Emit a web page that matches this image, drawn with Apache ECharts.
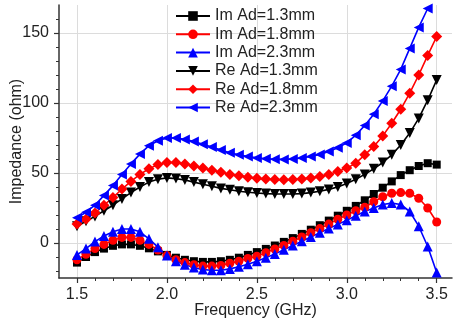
<!DOCTYPE html>
<html>
<head>
<meta charset="utf-8">
<script src="https://cdn.jsdelivr.net/npm/echarts@6/dist/echarts.min.js"></script>
<style>
html,body{margin:0;padding:0;background:#fff;}
#c{width:453px;height:322px;}
</style>
</head>
<body>
<div id="c"></div>
<script>
const freq = [1.5,1.55,1.6,1.65,1.7,1.75,1.8,1.85,1.9,1.95,2.0,2.05,2.1,2.15,2.2,2.25,2.3,2.35,2.4,2.45,2.5,2.55,2.6,2.65,2.7,2.75,2.8,2.85,2.9,2.95,3.0,3.05,3.1,3.15,3.2,3.25,3.3,3.35,3.4,3.45,3.5];
const imAd13 = [-14,-10,-6.5,-4,-2,-1,-1,-2,-3.8,-6,-8.5,-10.5,-12,-13,-13.5,-13.5,-13,-12,-10.5,-8.5,-6.5,-4.2,-1.8,0.8,3.5,6.5,9.5,12.7,16,19.5,23,26.5,30.5,35,39.5,44,48.5,52,55,57,56];
const imAd18 = [-12,-8,-4,-1,2,4,4,2,-1,-5,-9,-12,-14,-15.5,-16.5,-16.5,-16,-14.5,-13,-11,-9.5,-7,-4.3,-1.7,1.3,4.3,7.3,10.3,13.5,17,20,23,25.5,29.5,33,35.5,36,35.5,32,25,15];
const imAd23 = [-8.5,-4,1,5,8,10,10,8,3,-3,-9,-13,-15.5,-17.5,-19,-19.5,-19.5,-18.5,-17,-15.2,-13,-10.5,-7.8,-4.8,-1.8,1.3,4.3,7.3,10.3,13.3,16.3,19.5,22.5,25,27.5,28.5,27.5,22.5,12,-2.5,-21];
const reAd13 = [12,15.5,19,23,27,31.5,36,40,43.5,45.5,46.5,46,45,43.5,42,40.5,39,38,37,36.3,35.7,35.3,35,35,35,35.3,36,37,38.3,40,42.5,45.5,49,53,57.5,63,70,78.5,89,102,116.5];
const reAd18 = [13.5,17,21.5,27,32.5,38.5,44,49,53,56,57.5,57.5,56.5,55,53.5,52,50.5,49,48,47,46.3,45.7,45.3,45.2,45.3,45.7,46.5,47.5,49,51,53.5,57,63,69,76.5,85.5,95.5,107,120,134,147.5];
const reAd23 = [18,22,27,34,41,49,56.5,63.5,69.5,73,75,75,74,72.5,70.5,68.5,66.5,64.5,63,61.8,60.8,60.2,59.8,59.7,60,60.7,61.8,63.3,65.3,68,71.5,77,84,92,101.5,112,124,139,154,167.5];
const seriesNames = ['Im Ad=1.3mm','Im Ad=1.8mm','Im Ad=2.3mm','Re Ad=1.3mm','Re Ad=1.8mm','Re Ad=2.3mm'];
const xMajor = [1.5,2.0,2.5,3.0,3.5];
const xMinor = [1.6,1.7,1.8,1.9,2.1,2.2,2.3,2.4,2.6,2.7,2.8,2.9,3.1,3.2,3.3,3.4];
const yMajor = [0,50,100,150];
const yMinor = [-20,-10,10,20,30,40,60,70,80,90,110,120,130,140,160];

const FONT = 'Liberation Sans, Arial, sans-serif';
const axisColor = '#333';
const gridColor = '#dcdcdc';

function pairs(arr){ return arr.map((v,i)=>[freq[i], v]); }

const styles = [
  {data: imAd13, color:'#000000', symbol:'rect', size:8, rot:0},
  {data: imAd18, color:'#ff0000', symbol:'circle', size:9, rot:0},
  {data: imAd23, color:'#0000ff', symbol:'triangle', size:10, rot:0},
  {data: reAd13, color:'#000000', symbol:'triangle', size:10, rot:180},
  {data: reAd18, color:'#ff0000', symbol:'diamond', size:11, rot:0},
  {data: reAd23, color:'#0000ff', symbol:'triangle', size:10, rot:90}
];

const series = styles.map((s,i)=>({
  name: seriesNames[i],
  type: 'line',
  xAxisIndex: 0, yAxisIndex: 0,
  data: pairs(s.data),
  symbol: s.symbol,
  symbolSize: s.size,
  symbolRotate: s.rot,
  showSymbol: true,
  showAllSymbol: true,
  lineStyle: {color: s.color, width: 1.6},
  itemStyle: {color: s.color},
  emphasis: {disabled: true},
  animation: false
}));

const chart = echarts.init(document.getElementById('c'), null, {renderer:'canvas'});
chart.setOption({
  animation: false,
  backgroundColor: '#fff',
  textStyle: {fontFamily: FONT},
  grid: {left: 59, right: 1, top: 5, bottom: 44, containLabel: false, outerBoundsMode: 'none'},
  legend: {
    orient: 'vertical', left: 175, top: 8, padding: 0,
    itemWidth: 34, itemHeight: 12, itemGap: 2.3,
    textStyle: {fontSize: 16, color: '#222', fontFamily: FONT},
    data: seriesNames
  },
  xAxis: [{
    type: 'value', min: 1.4, max: 3.585,
    name: 'Frequency (GHz)', nameLocation: 'middle', nameGap: 25, nameMoveOverlap: false,
    nameTextStyle: {fontSize: 16, color: '#222', fontFamily: FONT},
    axisLine: {onZero: false, lineStyle: {color: axisColor, width: 1.5}},
    axisTick: {show: true, customValues: xMajor, length: 5, inside: false, lineStyle: {color: axisColor, width: 1.2}},
    axisLabel: {customValues: xMajor, formatter: v => v.toFixed(1), fontSize: 16, color: '#222', margin: 9, fontFamily: FONT},
    splitLine: {show: true, lineStyle: {color: gridColor, width: 1}}
  }, {
    type: 'value', min: 1.4, max: 3.585, position: 'bottom', gridIndex: 0,
    axisLine: {show: false, onZero: false},
    axisTick: {show: true, customValues: xMinor, length: 3, lineStyle: {color: axisColor, width: 1}},
    axisLabel: {show: false},
    splitLine: {show: false}
  }],
  yAxis: [{
    type: 'value', min: -25, max: 170,
    name: 'Impedance (ohm)', nameLocation: 'middle', nameGap: 34, nameMoveOverlap: false,
    nameTextStyle: {fontSize: 16, color: '#222', fontFamily: FONT},
    axisLine: {show: true, onZero: false, lineStyle: {color: axisColor, width: 1.5}},
    axisTick: {show: true, customValues: yMajor, length: 5, lineStyle: {color: axisColor, width: 1.2}},
    axisLabel: {customValues: yMajor, fontSize: 16, color: '#222', margin: 10, fontFamily: FONT},
    splitLine: {show: true, lineStyle: {color: gridColor, width: 1}}
  }, {
    type: 'value', min: -25, max: 170, position: 'left', gridIndex: 0,
    axisLine: {show: false, onZero: false},
    axisTick: {show: true, customValues: yMinor, length: 3, lineStyle: {color: axisColor, width: 1}},
    axisLabel: {show: false},
    splitLine: {show: false}
  }],
  series: series
});
</script>
</body>
</html>
